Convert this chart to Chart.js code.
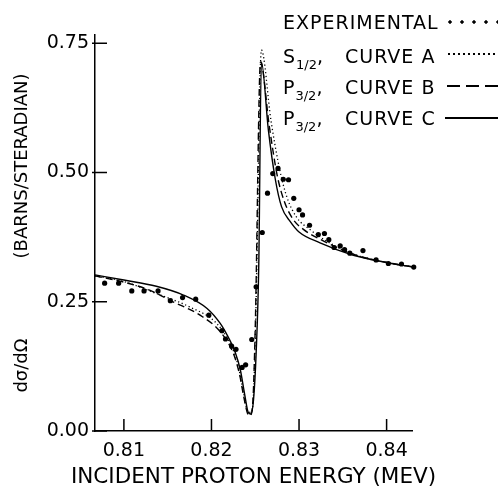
<!DOCTYPE html>
<html>
<head>
<meta charset="utf-8">
<script src="https://cdn.jsdelivr.net/npm/chart.js@4.4.1/dist/chart.umd.min.js"></script>
<style>
  body { margin: 0; background: #fff; }
  #wrap { position: relative; width: 500px; height: 487px; }
  .lg { position: absolute; font-family: "DejaVu Sans"; font-size: 19px; line-height: 19px; letter-spacing: 1px; color: #000; white-space: pre; }
  .lg sub { font-size: 13px; vertical-align: -6px; letter-spacing: 0; }
  .mk { position: absolute; }
</style>
</head>
<body>
<div id="wrap">
  <canvas id="chart"></canvas>
  <!-- legend, drawn as html so the subscripts work -->
  <div class="lg" style="left:283px; top:13px;">EXPERIMENTAL</div>
  <div class="mk" style="left:448px; top:20px; width:50px; height:4px; background-image:radial-gradient(circle at 2px 2px, #000 1.4px, transparent 2px); background-size:12px 4px;"></div>

  <div class="lg" style="left:283px; top:47px;">S<sub>1/2</sub>,</div>
  <div class="lg" style="left:345px; top:47px;">CURVE A</div>
  <div class="mk" style="left:448px; top:53px; width:50px; height:2px; background-image:radial-gradient(circle at 1px 1px, #000 0.8px, transparent 1.2px); background-size:5px 2px;"></div>

  <div class="lg" style="left:283px; top:78px;">P<sub>3/2</sub>,</div>
  <div class="lg" style="left:345px; top:78px;">CURVE B</div>
  <div class="mk" style="left:447px; top:85px; width:51px; height:1.5px; background:repeating-linear-gradient(90deg, #000 0 13px, transparent 13px 19px);"></div>

  <div class="lg" style="left:283px; top:109px;">P<sub>3/2</sub>,</div>
  <div class="lg" style="left:345px; top:109px;">CURVE C</div>
  <div class="mk" style="left:445px; top:117px; width:53px; height:1.5px; background:#000;"></div>
</div>
<script>
// experimental points
const expX = [0.8078, 0.8094, 0.8109, 0.8123, 0.8139, 0.8153, 0.8167, 0.8182, 0.8197, 0.8212,
              0.8216, 0.8223, 0.8228, 0.8235, 0.8239, 0.8246, 0.8251, 0.8258, 0.8264, 0.8270,
              0.8276, 0.8282, 0.8288, 0.8294, 0.8300, 0.8304, 0.8312, 0.8322, 0.8329, 0.8334,
              0.8340, 0.8347, 0.8352, 0.8358, 0.8373, 0.8388, 0.8402, 0.8417, 0.8431];
const expY = [0.286, 0.286, 0.271, 0.271, 0.271, 0.252, 0.258, 0.255, 0.224, 0.194,
              0.178, 0.164, 0.158, 0.123, 0.128, 0.177, 0.279, 0.384, 0.460, 0.498,
              0.508, 0.487, 0.486, 0.450, 0.428, 0.418, 0.398, 0.380, 0.382, 0.370,
              0.355, 0.358, 0.351, 0.344, 0.349, 0.331, 0.324, 0.323, 0.317];

// S1/2, curve A (dotted)
const curveAX = [0.8067, 0.8100, 0.8137, 0.8175, 0.8206, 0.8221, 0.8230, 0.8236, 0.8241, 0.8245,
                 0.8248, 0.8251, 0.8257, 0.8268, 0.8278, 0.8286, 0.8297, 0.8313, 0.8339, 0.8362,
                 0.8400, 0.8431];
const curveAY = [0.300, 0.289, 0.266, 0.240, 0.208, 0.170, 0.130, 0.080, 0.040, 0.036,
                 0.070, 0.250, 0.737, 0.600, 0.505, 0.453, 0.414, 0.389, 0.360, 0.342,
                 0.326, 0.317];

// P3/2, curve B (dashed)
const curveBX = [0.8067, 0.8100, 0.8130, 0.8156, 0.8187, 0.8210, 0.8225, 0.8232, 0.8237, 0.8241,
                 0.8244, 0.8247, 0.8250, 0.8256, 0.8266, 0.8275, 0.8283, 0.8293, 0.8305, 0.8325,
                 0.8362, 0.8400, 0.8431];
const curveBY = [0.300, 0.288, 0.272, 0.250, 0.224, 0.192, 0.150, 0.110, 0.065, 0.035,
                 0.030, 0.050, 0.200, 0.714, 0.590, 0.495, 0.445, 0.410, 0.390, 0.370,
                 0.342, 0.326, 0.317];

// P3/2, curve C (solid)
const curveCX = [0.8067, 0.8100, 0.8137, 0.8168, 0.8195, 0.8210, 0.8219, 0.8227, 0.8233, 0.8238,
                 0.8242, 0.8245, 0.8248, 0.8251, 0.8254, 0.8257, 0.8265, 0.8273, 0.8280, 0.8290,
                 0.8300, 0.8324, 0.8362, 0.8400, 0.8431];
const curveCY = [0.302, 0.292, 0.280, 0.263, 0.237, 0.208, 0.182, 0.153, 0.118, 0.070,
                 0.036, 0.033, 0.060, 0.150, 0.320, 0.714, 0.582, 0.486, 0.434, 0.405,
                 0.385, 0.364, 0.340, 0.326, 0.317];

const xTicks = [0.81, 0.82, 0.83, 0.84];
const yTicks = [0, 0.25, 0.5, 0.75];
const xTitle = 'INCIDENT PROTON ENERGY (MEV)';
const yTitle = 'd\u03c3/d\u03a9              (BARNS/STERADIAN)';

function pts(xs, ys) {
  return xs.map((x, i) => ({ x: x, y: ys[i] }));
}

// tick marks point into the plot, so draw them by hand.
// x title drawn here too: the scale title gets squeezed to the plot width
const innerTicks = {
  id: 'innerTicks',
  afterDraw(chart) {
    const ctx = chart.ctx, a = chart.chartArea;
    const sx = chart.scales.x, sy = chart.scales.y;
    ctx.save();
    ctx.strokeStyle = '#000';
    ctx.lineWidth = 1.5;
    ctx.beginPath();
    xTicks.forEach(v => {
      const p = sx.getPixelForValue(v);
      ctx.moveTo(p, a.bottom);
      ctx.lineTo(p, a.bottom - 12);
    });
    yTicks.forEach(v => {
      const p = sy.getPixelForValue(v);
      ctx.moveTo(a.left - 3, p);
      ctx.lineTo(a.left + 12, p);
    });
    ctx.stroke();

    ctx.fillStyle = '#000';
    ctx.font = '21.5px "DejaVu Sans"';
    ctx.textAlign = 'center';
    ctx.textBaseline = 'middle';
    ctx.fillText(xTitle, (a.left + a.right) / 2, 477);
    ctx.restore();
  }
};

const lineBase = {
  type: 'line',
  borderColor: '#000',
  borderWidth: 1.4,
  pointRadius: 0,
  fill: false,
  cubicInterpolationMode: 'monotone',
  clip: false
};

new Chart(document.getElementById('chart').getContext('2d'), {
  type: 'line',
  data: {
    datasets: [
      {
        label: 'EXPERIMENTAL',
        data: pts(expX, expY),
        showLine: false,
        pointRadius: 2.6,
        pointBackgroundColor: '#000',
        pointBorderWidth: 0,
        clip: false
      },
      Object.assign({}, lineBase, { label: 'S1/2, CURVE A', data: pts(curveAX, curveAY), borderDash: [1.2, 2.6], borderWidth: 1.3 }),
      Object.assign({}, lineBase, { label: 'P3/2, CURVE B', data: pts(curveBX, curveBY), borderDash: [7, 4] }),
      Object.assign({}, lineBase, { label: 'P3/2, CURVE C', data: pts(curveCX, curveCY) })
    ]
  },
  options: {
    responsive: true,
    maintainAspectRatio: false,
    animation: false,
    layout: { padding: { top: 35, right: 88, left: 0, bottom: 0 } },
    plugins: {
      legend: { display: false },
      tooltip: { enabled: false }
    },
    scales: {
      x: {
        type: 'linear',
        min: 0.8067,
        max: 0.8429,
        afterBuildTicks: s => { s.ticks = xTicks.map(v => ({ value: v })); },
        afterFit: s => { s.height = 56; },
        grid: { display: true, drawOnChartArea: false, drawTicks: false },
        border: { display: true, color: '#000', width: 1.5 },
        ticks: {
          color: '#000',
          padding: 9,
          maxRotation: 0,
          font: { family: 'DejaVu Sans', size: 19 },
          callback: v => v.toFixed(2)
        }
      },
      y: {
        min: 0,
        max: 0.766,
        afterBuildTicks: s => { s.ticks = yTicks.map(v => ({ value: v })); },
        afterFit: s => { s.width = 95; },
        grid: { display: true, drawOnChartArea: false, drawTicks: false },
        border: { display: true, color: '#000', width: 1.5 },
        ticks: {
          color: '#000',
          padding: 6,
          font: { family: 'DejaVu Sans', size: 19 },
          callback: v => v.toFixed(2)
        },
        title: {
          display: true,
          text: yTitle,
          color: '#000',
          font: { family: 'DejaVu Sans', size: 18 },
          padding: { top: 12, bottom: 0 }
        }
      }
    }
  },
  plugins: [innerTicks]
});
</script>
</body>
</html>
